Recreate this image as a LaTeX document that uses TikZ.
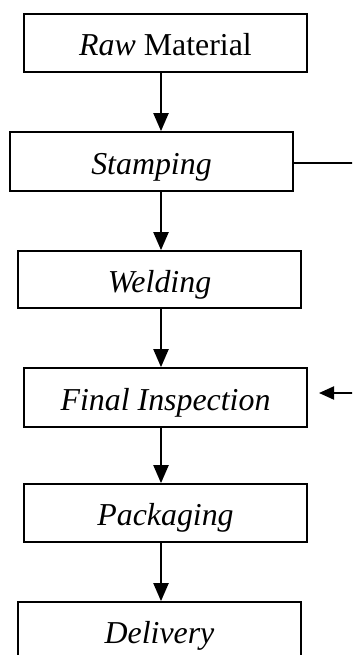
\documentclass[tikz,border=0pt]{standalone}
\usepackage{fontspec}
\setmainfont{Liberation Serif}
\usetikzlibrary{arrows.meta}
\begin{document}
\begin{tikzpicture}[x=1bp,y=-1bp,
  stage/.style={draw, line width=1.7bp, inner sep=0pt,
    minimum width=283bp, minimum height=58bp,
    text height=32bp, text depth=7bp,
    font=\fontsize{32}{38}\selectfont},
  flow/.style={line width=2.1bp, -{Triangle[length=18bp,width=15bp]}},
  side/.style={line width=2bp},
  sidearrow/.style={line width=2bp, -{Triangle[length=15bp,width=13bp]}}]
\useasboundingbox (0,0) rectangle (352,655);
\clip (0,0) rectangle (352,655);

% process stages
\node[stage] (raw)   at (165.5,43)    {\textit{Raw} Material};
\node[stage, minimum height=59bp] (stamp) at (151.5,161.5) {\textit{Stamping}};
\node[stage, minimum height=57bp] (weld)  at (159.5,279.5) {\textit{Welding}};
\node[stage, minimum height=59bp] (final) at (165.5,397.5) {\textit{Final Inspection}};
\node[stage] (pack)  at (165.5,513)   {\textit{Packaging}};
\node[stage] (deliv) at (159.5,631)   {\textit{Delivery}};

% vertical spine of the flow and the side loop
\coordinate (spine) at (161,0);
\coordinate (rimA) at (353,163);
\coordinate (rimB) at (353,393);
\coordinate (tipB) at (319,393);

\draw[flow] (raw.south -| spine)   -- (stamp.north -| spine);
\draw[flow] (stamp.south -| spine) -- (weld.north -| spine);
\draw[flow] (weld.south -| spine)  -- (final.north -| spine);
\draw[flow] (final.south -| spine) -- (pack.north -| spine);
\draw[flow] (pack.south -| spine)  -- (deliv.north -| spine);

\draw[side] (stamp.east |- rimA) -- (rimA);
\draw[sidearrow] (rimB) -- (tipB);
\end{tikzpicture}
\end{document}
